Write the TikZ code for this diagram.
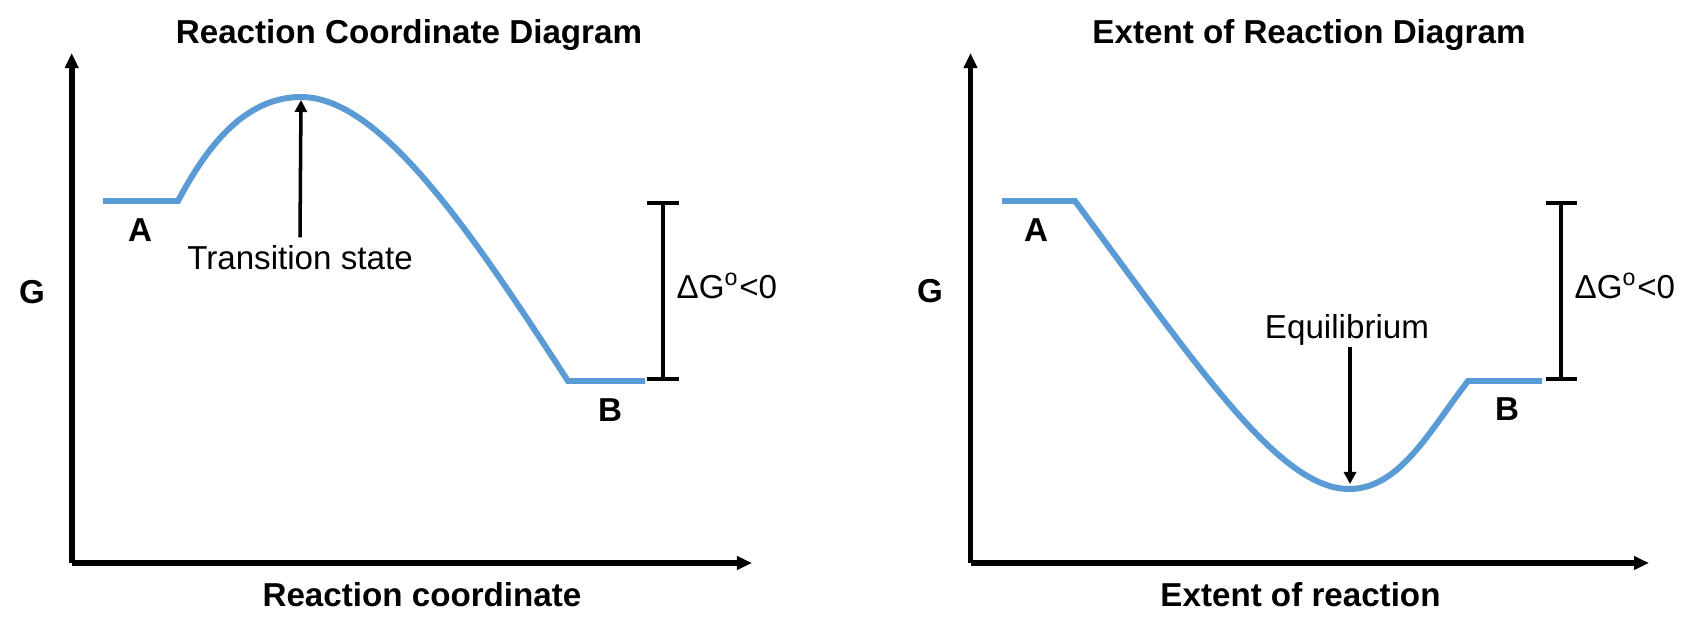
\documentclass[tikz,border=0pt]{standalone}
\usepackage{fontspec}
\setmainfont{Liberation Sans}
\usepackage{xcolor}
\usepackage{tikz}
\usetikzlibrary{arrows.meta,positioning}
\definecolor{curveblue}{HTML}{5B9BD5}
\tikzset{
  axis/.style={line width=1.6pt, -{Triangle[width=0.13cm,length=0.15cm]}},
  curve/.style={draw=curveblue, line width=1.7pt},
  pointer/.style={line width=1pt, -{Triangle[width=0.12cm,length=0.12cm]}},
  bar/.style={line width=1.1pt, {Bar[width=0.31cm]}-{Bar[width=0.31cm]}},
  heading/.style={font=\fontsize{9.43}{11}\selectfont\bfseries, inner sep=0pt},
  tag/.style={font=\fontsize{9.43}{11}\selectfont\bfseries, inner sep=0pt},
  note/.style={font=\fontsize{9.43}{11}\selectfont, inner sep=0pt},
}

\begin{document}
\begin{tikzpicture}[x=0.01cm, y=-0.01cm]
  \useasboundingbox (0,0) rectangle (1696,634);

  % Left: reaction coordinate diagram
  \coordinate (lorigin) at (71.7,563);
  \coordinate (ltop) at (71.7,53);
  \coordinate (lright) at (752,563);
  \coordinate (la1) at (103,201);
  \coordinate (la2) at (178,201);
  \coordinate (lpeak) at (301,97);
  \coordinate (lb1) at (568,381);
  \coordinate (lb2) at (645,381);
  \coordinate (ltip) at (301,100);
  \coordinate (lbarhi) at (663,201);
  \coordinate (lbarlo) at (663,381);

  \node[heading, anchor=base] (ltitle) at (409,44) {Reaction Coordinate Diagram};
  \node[heading, anchor=base] (lxlabel) at (422,607) {Reaction coordinate};
  \node[tag] (lG) at (32,292) {G};
  \node[tag] (lA) at (140,230) {A};
  \node[tag] (lB) at (610,410) {B};
  \node[note, anchor=base, inner ysep=0.08cm] (tsnote) at (300,270) {Transition state};
  \node[note, anchor=base west] (ldelta) at (676,299) {ΔG\textsuperscript{o}<0};

  \draw[axis] (lorigin) -- (ltop);
  \draw[axis] (lorigin) -- (lright);
  \draw[curve] (la1) -- (la2) .. controls (200,160) and (238,97) .. (lpeak)
    .. controls (380,97) and (470,230) .. (lb1) -- (lb2);
  \draw[pointer] (tsnote.north) -- (ltip);
  \draw[bar] (lbarhi) -- (lbarlo);

  % Right: extent of reaction diagram
  \coordinate (rorigin) at (970.5,563);
  \coordinate (rtop) at (970.5,53);
  \coordinate (rright) at (1649,563);
  \coordinate (ra1) at (1002,201);
  \coordinate (ra2) at (1075,201);
  \coordinate (rmin) at (1349,489);
  \coordinate (rb1) at (1468,381);
  \coordinate (rb2) at (1542,381);
  \coordinate (rtip) at (1350,484);
  \coordinate (rbarhi) at (1561,201);
  \coordinate (rbarlo) at (1561,381);

  \node[heading, anchor=base] (rtitle) at (1309,44) {Extent of Reaction Diagram};
  \node[heading, anchor=base] (rxlabel) at (1300.5,607) {Extent of reaction};
  \node[tag] (rG) at (930,291) {G};
  \node[tag] (rA) at (1036,230) {A};
  \node[tag] (rB) at (1507,409) {B};
  \node[note, anchor=base] (eqnote) at (1347,339) {Equilibrium};
  \node[note, anchor=base west] (rdelta) at (1574,299) {ΔG\textsuperscript{o}<0};

  \draw[axis] (rorigin) -- (rtop);
  \draw[axis] (rorigin) -- (rright);
  \draw[curve] (ra1) -- (ra2) .. controls (1200,370) and (1280,489) .. (rmin)
    .. controls (1400,489) and (1430,430) .. (rb1) -- (rb2);
  \draw[pointer] (eqnote.south -| rtip) -- (rtip);
  \draw[bar] (rbarhi) -- (rbarlo);
\end{tikzpicture}
\end{document}
